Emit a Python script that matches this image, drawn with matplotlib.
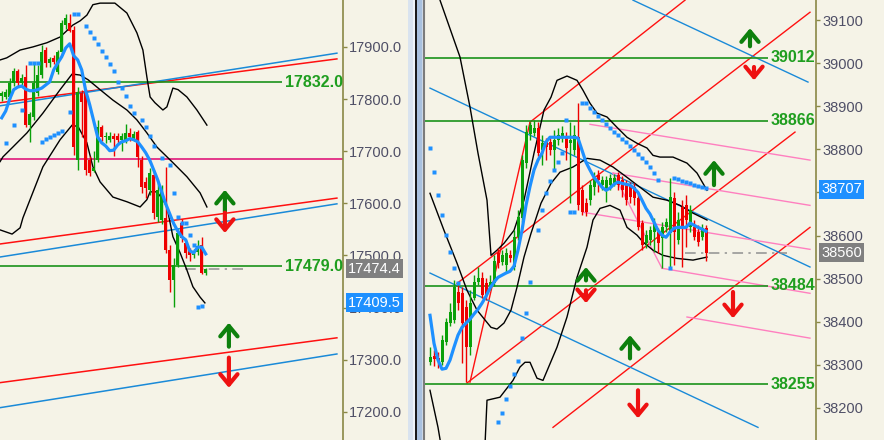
import matplotlib
matplotlib.use("Agg")
import matplotlib.pyplot as plt
from matplotlib.patches import Rectangle

plt.rcParams['font.family'] = ['Liberation Sans', 'DejaVu Sans']

# ===================== LEFT PANEL DATA (17xxx index) =====================
left_open = [17806, 17804, 17804, 17831, 17854, 17831, 17842, 17750, 17766, 17812,
             17846, 17894, 17870, 17879, 17852, 17890, 17942, 17946, 17933, 17683,
             17812, 17814, 17683, 17662, 17683, 17746, 17727, 17722, 17730, 17730,
             17722, 17722, 17735, 17726, 17737, 17683, 17641, 17626, 17654, 17574,
             17568, 17572, 17511, 17453, 17482, 17562, 17524, 17511, 17500, 17506,
             17520, 17466]
left_high = [17816, 17820, 17840, 17860, 17858, 17848, 17865, 17775, 17869, 17865,
             17904, 17900, 17880, 17885, 17895, 17952, 17963, 17963, 17940, 17823,
             17818, 17820, 17690, 17700, 17760, 17750, 17736, 17737, 17735, 17735,
             17735, 17752, 17744, 17738, 17740, 17690, 17650, 17668, 17664, 17640,
             17636, 17670, 17520, 17495, 17550, 17570, 17530, 17515, 17512, 17530,
             17535, 17476]
left_low = [17797, 17800, 17800, 17825, 17825, 17826, 17747, 17718, 17760, 17805,
            17840, 17862, 17862, 17868, 17848, 17885, 17935, 17928, 17693, 17664,
            17728, 17654, 17653, 17660, 17680, 17720, 17716, 17718, 17690, 17716,
            17700, 17715, 17720, 17720, 17670, 17620, 17610, 17615, 17570, 17565,
            17560, 17505, 17430, 17401, 17478, 17525, 17495, 17490, 17495, 17500,
            17464, 17463]
left_close = [17812, 17814, 17831, 17854, 17831, 17840, 17750, 17771, 17831, 17846,
              17890, 17870, 17877, 17871, 17890, 17946, 17956, 17931, 17708, 17814,
              17795, 17664, 17658, 17668, 17746, 17727, 17730, 17730, 17724, 17722,
              17730, 17735, 17727, 17733, 17689, 17631, 17629, 17658, 17582, 17626,
              17626, 17511, 17453, 17482, 17543, 17534, 17505, 17501, 17505, 17518,
              17466, 17474.4]
left_ma = [17764, 17777, 17800, 17818, 17823, 17825, 17819, 17816, 17816, 17818,
           17821, 17827, 17833, 17856, 17869, 17881, 17898, 17906, 17883, 17875,
           17856, 17816, 17789, 17758, 17727, 17716, 17710, 17701, 17702, 17712,
           17718, 17720, 17724, 17722, 17718, 17708, 17697, 17683, 17664, 17645,
           17622, 17599, 17580, 17561, 17547, 17536, 17530, 17509, 17505, 17516,
           17516, 17503]
left_bb_up_x = [-0.4, 1.25, 4.6, 7.8, 11.3, 14.6, 17.8, 19.6, 21.3, 22.8, 24.6, 28.3, 31.3,
                33.8, 35.3, 36.3, 37.1, 38.3, 40.3, 41.3, 42.8, 44.1, 46.3, 48.8, 51.3]
left_bb_up = [17875, 17879, 17894, 17900, 17908, 17919, 17942, 17950, 17961, 17981, 17984,
              17984, 17965, 17927, 17894, 17842, 17804, 17793, 17779, 17785, 17821, 17818,
              17804, 17779, 17750]
left_bb_mid_x = [-0.4, 0.3, 2.8, 6.3, 10.3, 14.6, 17.6, 19.6, 21.6, 24.6, 27.8, 31.3, 33.8,
                 36.3, 38.8, 42.8, 46.3, 49.6, 51.3]
left_bb_mid = [17680, 17689, 17708, 17735, 17773, 17818, 17848, 17846, 17837, 17818, 17798,
               17779, 17760, 17735, 17708, 17678, 17651, 17620, 17593]
left_bb_low_x = [-0.4, 2.6, 4.6, 5.3, 10.3, 14.6, 17.6, 19.1, 21.3, 22.8, 24.6, 27.8, 31.3,
                 34.6, 36.3, 37.1, 38.8, 40.3, 41.3, 42.8, 44.6, 46.3, 47.8, 49.6, 50.8]
left_bb_low = [17549, 17541, 17553, 17572, 17670, 17722, 17750, 17747, 17716, 17670, 17641,
               17612, 17603, 17593, 17607, 17622, 17622, 17607, 17593, 17536, 17505, 17472,
               17440, 17420, 17409]
left_sar_x = [1, 3, 5, 7, 8, 9, 10, 11, 12, 13, 14, 15, 17,
              18, 19, 21, 22, 23, 24, 25, 26, 27, 28, 29, 30, 31, 32, 33, 35, 36, 37, 38,
              40, 42, 43, 44, 45, 46, 47, 48, 49, 50]
left_sar = [17716, 17750, 17779, 17869, 17869, 17869, 17718, 17724, 17727, 17731, 17735,
            17739, 17775, 17964, 17964, 17940, 17929, 17917, 17906, 17893, 17880, 17867,
            17853, 17833, 17821, 17805, 17787, 17773, 17760, 17746, 17729, 17709, 17686,
            17674, 17619, 17574, 17562, 17562, 17539, 17520, 17401, 17403]
left_red_lines = [(-0.425, 17793, 83.8, 17877), (-0.425, 17522, 83.8, 17610),
                  (-0.425, 17256, 83.8, 17342)]
left_blue_lines = [(-0.425, 17787, 83.8, 17888), (-0.425, 17497, 83.8, 17599),
                   (-0.425, 17208, 83.8, 17311)]
left_levels = [17832.0, 17479.0]
left_pivot = 17685
left_last, left_ask = 17474.4, 17409.5
left_arrow_x = [55.8, 55.8, 56.8, 56.8]
left_arrow_from = [17584, 17582, 17325, 17304]
left_arrow_to = [17626, 17543, 17371, 17246]
left_ticks = [17200, 17300, 17400, 17500, 17600, 17700, 17800, 17900, 18000]

# ===================== RIGHT PANEL DATA (38xxx index) =====================
right_open = [38306, 38320, 38315, 38306, 38353, 38397, 38404, 38469, 38466, 38434,
              38341, 38455, 38492, 38501, 38489, 38485, 38489, 38559, 38538, 38531,
              38554, 38527, 38596, 38640, 38768, 38835, 38838, 38849, 38798, 38817,
              38817, 38798, 38821, 38826, 38828, 38814, 38798, 38828, 38705, 38675,
              38682, 38712, 38740, 38717, 38710, 38717, 38721, 38740, 38728, 38717,
              38717, 38712, 38687, 38629, 38582, 38589, 38608, 38608, 38594, 38619,
              38605, 38687, 38589, 38666, 38670, 38619, 38619, 38608, 38596, 38617]
right_high = [38341, 38334, 38330, 38369, 38408, 38443, 38496, 38485, 38480, 38450,
              38473, 38508, 38527, 38515, 38501, 38508, 38554, 38571, 38566, 38571,
              38566, 38612, 38659, 38786, 38856, 38863, 38868, 38863, 38833, 38826,
              38831, 38845, 38849, 38854, 38840, 38863, 38856, 38907, 38717, 38687,
              38728, 38747, 38752, 38738, 38738, 38742, 38742, 38747, 38738, 38728,
              38724, 38721, 38698, 38636, 38612, 38622, 38640, 38617, 38631, 38640,
              38733, 38700, 38654, 38682, 38694, 38670, 38636, 38624, 38626, 38624]
right_low = [38299, 38297, 38292, 38299, 38346, 38390, 38397, 38427, 38304, 38260,
             38322, 38450, 38485, 38455, 38450, 38473, 38482, 38524, 38531, 38515,
             38538, 38520, 38589, 38631, 38756, 38821, 38831, 38784, 38763, 38775,
             38786, 38752, 38810, 38817, 38775, 38675, 38786, 38659, 38647, 38645,
             38670, 38694, 38700, 38705, 38677, 38705, 38714, 38705, 38689, 38670,
             38675, 38670, 38612, 38566, 38571, 38578, 38561, 38559, 38524, 38608,
             38524, 38531, 38580, 38527, 38573, 38608, 38589, 38575, 38589, 38542]
right_close = [38318, 38313, 38306, 38358, 38399, 38422, 38480, 38443, 38397, 38341,
               38443, 38492, 38501, 38462, 38462, 38492, 38542, 38536, 38554, 38559,
               38547, 38596, 38643, 38775, 38840, 38856, 38849, 38791, 38814, 38805,
               38798, 38821, 38833, 38838, 38803, 38821, 38833, 38670, 38654, 38654,
               38717, 38735, 38728, 38728, 38728, 38733, 38733, 38717, 38705, 38682,
               38689, 38687, 38619, 38578, 38601, 38612, 38629, 38582, 38619, 38631,
               38689, 38608, 38636, 38619, 38636, 38659, 38596, 38585, 38617, 38560]
right_ma = [38415, 38350, 38311, 38290, 38292, 38311, 38341, 38369, 38387, 38397,
            38406, 38418, 38429, 38443, 38459, 38478, 38492, 38503, 38508, 38513,
            38517, 38529, 38566, 38612, 38670, 38714, 38752, 38775, 38791, 38817,
            38828, 38828, 38828, 38828, 38828, 38828, 38828, 38826, 38798, 38770,
            38752, 38735, 38724, 38712, 38705, 38710, 38719, 38724, 38721, 38719,
            38717, 38710, 38700, 38682, 38663, 38650, 38631, 38612, 38601, 38596,
            38608, 38617, 38619, 38619, 38619, 38629, 38624, 38619, 38615, 38610]
right_bb_up_x = [1.75, 2.5, 7.5, 10, 12, 14.25, 15.25, 16.75, 18.5, 21, 23.5, 26, 28.5,
                 30.25, 31.75, 34.25, 36.75, 38.25, 40, 41.75, 44.25, 46.75, 49.25, 51.75,
                 54.25, 55.75, 57.5, 60.75, 64.25, 66.75, 69.25]
right_bb_up = [39192, 39146, 39014, 38898, 38791, 38682, 38554, 38566, 38582, 38612, 38682,
               38791, 38891, 38921, 38960, 38970, 38960, 38937, 38907, 38884, 38875, 38851,
               38828, 38814, 38803, 38786, 38782, 38782, 38768, 38745, 38705]
right_bb_mid_x = [0, 3.5, 6.75, 9.25, 11.75, 15.25, 16.75, 18.5, 20.25, 21.75, 23.5, 25.25,
                  27.75, 30.25, 32.5, 35.75, 39.25, 42.5, 45.75, 49.25, 52.5, 55.75, 59.25,
                  62.5, 65.75, 69.25]
right_bb_mid = [38698, 38612, 38536, 38473, 38427, 38387, 38383, 38397, 38427, 38480, 38550,
                38605, 38675, 38721, 38747, 38759, 38779, 38775, 38759, 38735, 38712, 38689,
                38682, 38670, 38652, 38636]
right_bb_low_x = [0, 2, 2.75, 13.75, 14.25, 17.5, 20.75, 22.5, 23.75, 25, 26.75, 28.25, 31.75,
                  34.25, 36.75, 39.25, 40.75, 42.5, 45, 47.5, 49.25, 51.75, 53.25, 55.75, 58.25,
                  61.75, 65.75, 69.25]
right_bb_low = [38241, 38155, 38114, 38114, 38218, 38225, 38264, 38295, 38306, 38306, 38269,
                38264, 38341, 38411, 38503, 38573, 38636, 38663, 38670, 38659, 38619, 38601,
                38585, 38566, 38554, 38547, 38543, 38550]
right_sar_x = [0, 1, 2, 3, 4, 5, 6, 7,
               17, 18, 19, 20, 21, 22, 23, 24, 25,
               27, 28, 29, 30, 31, 32, 33, 34, 35, 36,
               38, 39, 40, 41, 42, 43, 44, 45, 46, 47, 48, 49, 50, 51, 52, 53, 54, 55, 56, 57,
               60, 61, 62, 63, 64, 65, 66, 67, 68, 69]
right_sar = [38803, 38747, 38694, 38647, 38601, 38561, 38524, 38489,
             38167, 38188, 38220, 38250, 38278, 38308, 38362, 38420, 38492,
             38612, 38659, 38698, 38726, 38752, 38770, 38791, 38868, 38654, 38654,
             38907, 38907, 38895, 38886, 38877, 38868, 38858, 38849, 38840, 38833, 38824,
             38817, 38807, 38798, 38789, 38779, 38770, 38759, 38745, 38728,
             38524, 38733, 38731, 38726, 38724, 38721, 38717, 38714, 38712, 38710]
right_red_lines = [(10, 38260, 25, 38863), (25, 38863, 63.75, 39146),
                   (6.75, 38489, 95, 39118), (9.25, 38258, 91.25, 38840),
                   (30.75, 38155, 95, 38619)]
right_blue_lines = [(50.75, 39146, 94.5, 38956), (0, 38942, 95, 38527), (0, 38513, 82, 38155)]
right_pink_lines = [(40, 38858, 95, 38775), (45.75, 38745, 95, 38670),
                    (38.25, 38654, 95, 38568), (58, 38524, 95, 38466),
                    (64.25, 38411, 95, 38362), (45.75, 38745, 58, 38524)]
right_levels = [39012, 38866, 38484, 38255]
right_last, right_ask = 38560, 38707
right_arrow_x = [80, 81, 71, 75.75, 39, 39, 50, 52]
right_arrow_from = [39039, 38991, 38717, 38469, 38496, 38473, 38315, 38241]
right_arrow_to = [39081, 38960, 38775, 38408, 38527, 38443, 38369, 38176]
right_ticks = [38200, 38300, 38400, 38500, 38600, 38700, 38800, 38900, 39000, 39100]

# ===================== STYLE =====================
W, H = 884, 440
BG = "#f5f3e7"
CANDLE_UP, CANDLE_DN = "#0aa00a", "#ee0000"
MA_C = "#1e90ff"
SPINE = "#8a8846"
TICKC = "#4f4f66"
LEVEL_C, LEVEL_TXT = "#1a921a", "#1f9e1f"
ARROW_UP, ARROW_DN = "#0d800d", "#ee1111"

fig = plt.figure(figsize=(W / 100, H / 100), dpi=100)
fig.patch.set_facecolor(BG)
axL = fig.add_axes([0, 0, 343 / W, 1])
axR = fig.add_axes([424 / W, 0, 392 / W, 1])

# divider between the two chart windows
for x0, w, c in [(408, 5, "#d9e3ef"), (413, 2, "#eef3f8"), (415, 1.7, "#1a1a1a"),
                 (416.7, 5, "#a9c1df"), (421.7, 2.3, "#cfdbea")]:
    fig.add_artist(Rectangle((x0 / W, 0), w / W, 1, transform=fig.transFigure,
                             facecolor=c, edgecolor="none", zorder=0))


def candles(ax, o, h, l, c, minh):
    for i in range(len(o)):
        col = CANDLE_UP if c[i] >= o[i] else CANDLE_DN
        ax.vlines(i, l[i], h[i], color=col, lw=1, zorder=3)
        ax.bar(i, max(abs(c[i] - o[i]), minh), bottom=min(o[i], c[i]), width=0.75,
               color=col, linewidth=0, zorder=3)


def arrows(ax, xs, y0s, y1s):
    for x, y0, y1 in zip(xs, y0s, y1s):
        col = ARROW_UP if y1 > y0 else ARROW_DN
        ax.annotate("", xy=(x, y1), xytext=(x, y0),
                    arrowprops=dict(arrowstyle="->,head_length=0.75,head_width=0.62",
                                    lw=3, color=col, shrinkA=0, shrinkB=0), zorder=6)


def setup(ax, ticks, fmt, ylim, xlim):
    ax.set_facecolor(BG)
    ax.set_xlim(*xlim)
    ax.set_ylim(*ylim)
    for s in ["top", "bottom", "left"]:
        ax.spines[s].set_visible(False)
    ax.spines["right"].set_color(SPINE)
    ax.spines["right"].set_linewidth(1.2)
    ax.set_xticks([])
    ax.yaxis.tick_right()
    vis = [t for t in ticks if ylim[0] <= t <= ylim[1]]
    ax.set_yticks(vis)
    ax.set_yticklabels([fmt.format(t) for t in vis])
    ax.tick_params(axis="y", direction="out", length=3, width=1, color=SPINE, pad=1.5,
                   labelsize=10.5, labelcolor=TICKC)
    for t in ticks:
        if t > ylim[1]:
            ax.annotate(fmt.format(t), xy=(1, t), xycoords=("axes fraction", "data"),
                        xytext=(4.5, 0), textcoords="offset points", ha="left", va="center",
                        fontsize=10.5, color=TICKC, annotation_clip=False)


def price_box(ax, price, fc):
    txt = "{:.1f}".format(price) if ax is axL else "{:d}".format(int(price))
    ax.annotate(txt, xy=(1, price), xycoords=("axes fraction", "data"), xytext=(3.8, 0),
                textcoords="offset points", ha="left", va="center", fontsize=10.5,
                color="white", bbox=dict(boxstyle="square,pad=0.16", fc=fc, ec="none"),
                annotation_clip=False, zorder=10)


# ---------------- LEFT ----------------
setup(axL, left_ticks, "{:.1f}", (17146, 17990), (-0.425, 85.325))
for x0, y0, x1, y1 in left_red_lines:
    axL.plot([x0, x1], [y0, y1], color="#ff1010", lw=1.1, zorder=2)
for x0, y0, x1, y1 in left_blue_lines:
    axL.plot([x0, x1], [y0, y1], color="#1a8ad8", lw=1.1, zorder=2)
axL.axhline(left_pivot, color="#e0187a", lw=1.2, zorder=2)
for lv in left_levels:
    axL.hlines(lv, -0.425, 70.1, color=LEVEL_C, lw=1.2, zorder=2)
    axL.text(70.8, lv, "{:.1f}".format(lv), color=LEVEL_TXT, fontsize=11.5,
             fontweight="bold", va="center", ha="left", zorder=5)
axL.hlines(left_last, 45.8, 60.3, color="#909090", lw=1.1, linestyles=(0, (7, 3.5, 1.5, 3.5)),
           zorder=2)
for bx, by in [(left_bb_up_x, left_bb_up), (left_bb_mid_x, left_bb_mid),
               (left_bb_low_x, left_bb_low)]:
    axL.plot(bx, by, color="black", lw=1.0, zorder=2.5)
candles(axL, left_open, left_high, left_low, left_close, 2)
axL.plot(range(len(left_ma)), left_ma, color=MA_C, lw=2.3, zorder=4)
axL.plot(left_sar_x, left_sar, ls="none", marker="s", ms=2.2, color=MA_C, mec="none", zorder=4)
arrows(axL, left_arrow_x, left_arrow_from, left_arrow_to)
price_box(axL, left_last, "#808080")
price_box(axL, left_ask, "#1e90ff")

# ---------------- RIGHT ----------------
setup(axR, right_ticks, "{:d}", (38125.7, 39146.4), (-1.5, 96.5))
axR.spines["left"].set_visible(True)
axR.spines["left"].set_color("#7c7c7c")
axR.spines["left"].set_linewidth(1.5)
for x0, y0, x1, y1 in right_red_lines:
    axR.plot([x0, x1], [y0, y1], color="#ff1010", lw=1.0, zorder=2)
for x0, y0, x1, y1 in right_blue_lines:
    axR.plot([x0, x1], [y0, y1], color="#1a8ad8", lw=1.0, zorder=2)
for x0, y0, x1, y1 in right_pink_lines:
    axR.plot([x0, x1], [y0, y1], color="#ff7fbf", lw=1.0, zorder=2)
for lv in right_levels:
    axR.hlines(lv, -1.5, 84.5, color=LEVEL_C, lw=1.2, zorder=2)
    axR.text(85.2, lv, "{:d}".format(lv), color=LEVEL_TXT, fontsize=11.5,
             fontweight="bold", va="center", ha="left", zorder=5)
axR.hlines(right_last, 63.75, 89.25, color="#909090", lw=1.1,
           linestyles=(0, (7, 3.5, 1.5, 3.5)), zorder=2)
for bx, by in [(right_bb_up_x, right_bb_up), (right_bb_mid_x, right_bb_mid),
               (right_bb_low_x, right_bb_low)]:
    axR.plot(bx, by, color="black", lw=1.0, zorder=2.5)
candles(axR, right_open, right_high, right_low, right_close, 2.5)
axR.plot(range(len(right_ma)), right_ma, color=MA_C, lw=2.3, zorder=4)
axR.plot(right_sar_x, right_sar, ls="none", marker="s", ms=2.2, color=MA_C, mec="none",
         zorder=4)
arrows(axR, right_arrow_x, right_arrow_from, right_arrow_to)
price_box(axR, right_ask, "#1e90ff")
price_box(axR, right_last, "#808080")

fig.savefig("out.png", dpi=100, facecolor=BG)
